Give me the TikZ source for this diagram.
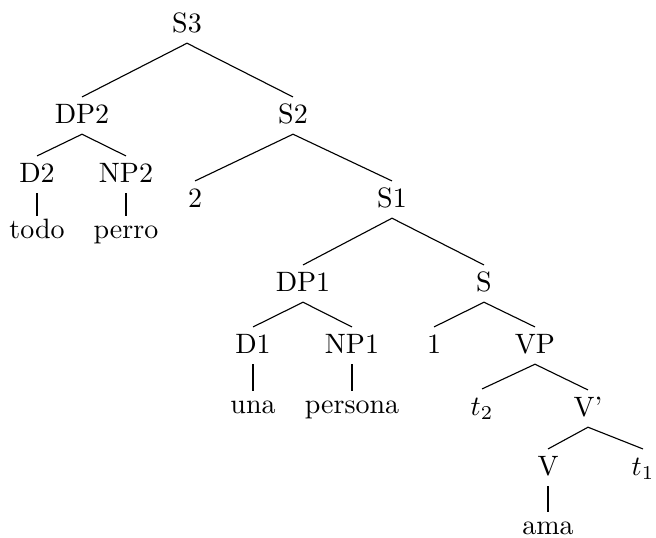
\documentclass[tikz,border=0pt]{standalone}
\begin{document}
\begin{tikzpicture}[x=0.357pt,y=-0.357pt,
  every node/.style={anchor=base, inner sep=0.3pt, text height=8.8pt, text depth=3.5pt},
  leaf/.style={text height=7.2pt},
  branch/.style={draw, line width=0.4pt}]
\useasboundingbox (0,0) rectangle (656,537);
% nodes
\node (S3) at (187,32) {S3};
\node (DP2) at (82,123) {DP2};
\node (S2) at (293,123) {S2};
\node (D2) at (37,182) {D2};
\node (NP2) at (126,182) {NP2};
\node[leaf] (todo) at (37,238) {todo};
\node[leaf] (perro) at (126,238) {perro};
\node (two) at (195,207) {2};
\node (S1) at (392,207) {S1};
\node (DP1) at (303,291) {DP1};
\node (S) at (484,291) {S};
\node (D1) at (253,353) {D1};
\node (NP1) at (352,353) {NP1};
\node[leaf] (una) at (253,413) {una};
\node[leaf] (persona) at (352,413) {persona};
\node (one) at (434,353) {1};
\node (VP) at (535,353) {VP};
\node (t2) at (482,415) {$t_2$};
\node (Vbar) at (588,416) {V'};
\node (V) at (548,475) {V};
\node (t1) at (643,475) {$t_1$};
\node[leaf] (ama) at (548,534) {ama};
% edges
\path[branch] (S3.south) -- (DP2.north);
\path[branch] (S3.south) -- (S2.north);
\path[branch] (DP2.south) -- (D2.north);
\path[branch] (DP2.south) -- (NP2.north);
\path[branch] (D2.south) -- (todo.north);
\path[branch] (NP2.south) -- (perro.north);
\path[branch] (S2.south) -- (two.north);
\path[branch] (S2.south) -- (S1.north);
\path[branch] (S1.south) -- (DP1.north);
\path[branch] (S1.south) -- (S.north);
\path[branch] (DP1.south) -- (D1.north);
\path[branch] (DP1.south) -- (NP1.north);
\path[branch] (D1.south) -- (una.north);
\path[branch] (NP1.south) -- (persona.north);
\path[branch] (S.south) -- (one.north);
\path[branch] (S.south) -- (VP.north);
\path[branch] (VP.south) -- (t2.north);
\path[branch] (VP.south) -- (Vbar.north);
\path[branch] (Vbar.south) -- (V.north);
\path[branch] (Vbar.south) -- (t1.north);
\path[branch] (V.south) -- (ama.north);
\end{tikzpicture}
\end{document}
